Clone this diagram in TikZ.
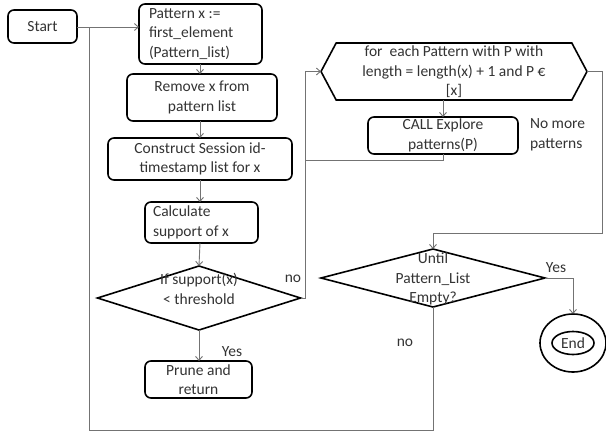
\documentclass[tikz,border=0pt]{standalone}
\usepackage{fontspec}
\setmainfont{Carlito}
\usetikzlibrary{shapes.geometric,shapes.symbols,arrows.meta}
\begin{document}
\begin{tikzpicture}[x=1pt,y=-1pt,
  every node/.style={inner sep=0pt,outer sep=0pt},
  txt/.style={font=\fontsize{15.5}{19.5}\selectfont,text=black!80,align=center},
  box/.style={draw=black,line width=1.6pt,rounded corners=6pt,rectangle},
  dia/.style={draw=black,line width=1.6pt,diamond},
  conn/.style={draw=black!55,line width=0.9pt},
  arr/.style={conn,-{Straight Barb[length=4pt,width=7pt]}}]
\useasboundingbox (0,0) rectangle (606,432);

% process boxes
\node[box,minimum width=69pt,minimum height=33pt] (start) at (42.5,26.5) {};
\node[txt] (startT) at (start) {Start};
\node[box,minimum width=123pt,minimum height=60pt] (pat) at (200.5,34) {};
\node[txt,align=left,anchor=west] (patT) at (149,34) {Pattern x :=\\first\_element\\(Pattern\_list)};
\node[box,minimum width=150pt,minimum height=47pt] (rem) at (202,97.5) {};
\node[txt] (remT) at (rem) {Remove x from\\pattern list};
\node[box,minimum width=184pt,minimum height=42pt] (con) at (200,159) {};
\node[txt] (conT) at (con) {Construct Session id-\\timestamp list for x};
\node[box,minimum width=113pt,minimum height=41pt] (calc) at (201.5,222.5) {};
\node[txt,align=left,anchor=west] (calcT) at (153,222.5) {Calculate\\support of x};
\node[dia,minimum width=203pt,minimum height=64pt,aspect=3.2] (d1) at (199,298) {};
\node[txt] (d1T) at (199,289) {If support(x)\\< threshold};
\node[box,minimum width=107pt,minimum height=37pt] (prune) at (198.5,379.5) {};
\node[txt] (pruneT) at (prune) {Prune and\\return};

% loop over the longer patterns
\node[signal,signal to=east and west,signal pointer angle=124,draw=black,line width=1.6pt,
  minimum width=266pt,minimum height=57pt] (hex) at (454,71.5) {};
\node[txt] (hexT) at (454,72) {for\ \ each Pattern with P with\\length = length(x) + 1 and P €\\{}[x]};
\node[box,minimum width=150pt,minimum height=37pt] (call) at (443,135.5) {};
\node[txt] (callT) at (call) {CALL Explore\\patterns(P)};
\node[txt,align=left,anchor=west] (nomore) at (530,135) {No more\\patterns};

\node[dia,minimum width=224pt,minimum height=58pt,aspect=3.9] (d2) at (433,278) {};
\node[txt] (d2T) at (433,279) {Until\\Pattern\_List\\Empty?};

% end marker
\node[ellipse,draw=black,line width=1.6pt,minimum width=66pt,minimum height=58pt] (endo) at (573,343) {};
\node[ellipse,draw=black,line width=1.6pt,minimum width=42pt,minimum height=23pt] (endi) at (573,343) {};
\node[txt] (endT) at (endi) {End};

% branch labels
\node[txt] (noA) at (293,279) {no};
\node[txt] (yesA) at (232,352) {Yes};
\node[txt] (yesB) at (556,268) {Yes};
\node[txt] (noB) at (405,343) {no};

% junction points of the connectors
\coordinate (jStart) at (89,27);
\coordinate (loopBL) at (89,430);
\coordinate (noUp) at (305,298);
\coordinate (noTop) at (305,71.5);
\coordinate (callBack) at (305,160);
\coordinate (callDown) at (443,160);
\coordinate (hexR) at (602,71.5);
\coordinate (hexRB) at (602,233);
\coordinate (d2In) at (433,233);
\coordinate (yesR) at (573,278);

% connectors
\draw[arr] (start.east |- jStart) -- (jStart -| pat.west);
\draw[arr] (pat.south -| 200,0) -- (rem.north -| 200,0);
\draw[arr] (rem.south -| 200,0) -- (con.north -| 200,0);
\draw[arr] (con.south -| 200,0) -- (calc.north -| 200,0);
\draw[arr] (calc.south -| 200,0) -- (d1.north);
\draw[arr] (d1.south) -- (prune.north -| d1.south);
\draw[arr] (d1.east) -- (noUp) -- (noTop) -- (hex.west);
\draw[arr] (hex.south -| call.north) -- (call.north);
\draw[conn] (call.south) -- (callDown) -- (callBack);
\draw[arr] (hex.east) -- (hexR) -- (hexRB) -- (d2In) -- (d2.north);
\draw[arr] (d2.east) -- (yesR) -- (endo.north);
\draw[conn] (d2.south) |- (loopBL) -- (jStart);
\end{tikzpicture}
\end{document}
